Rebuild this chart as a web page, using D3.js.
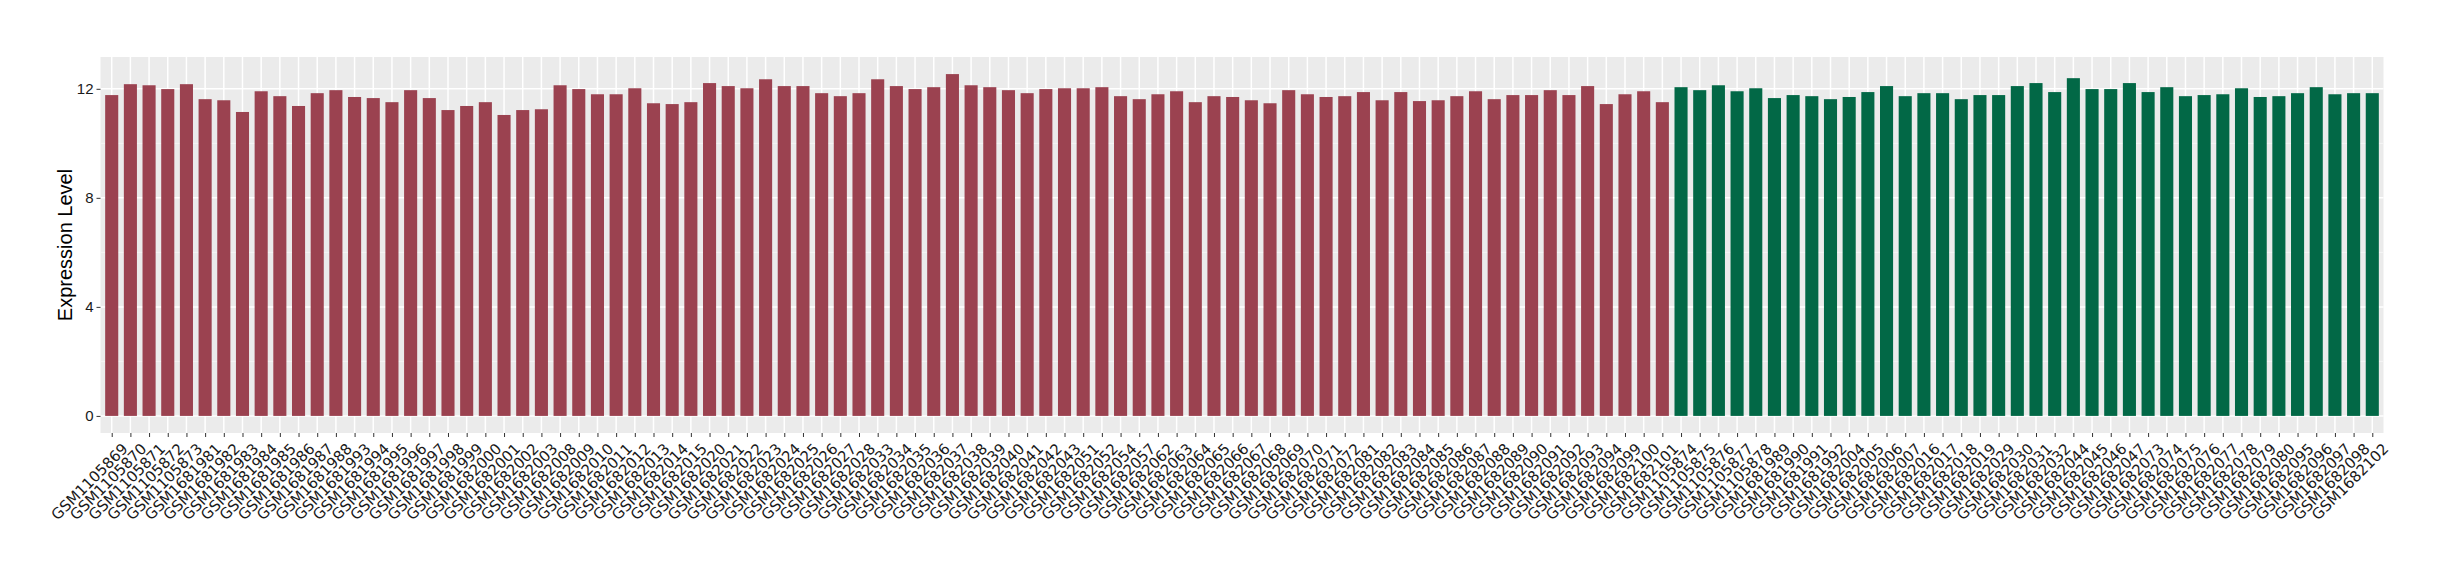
<!DOCTYPE html>
<html>
<head>
<meta charset="utf-8">
<script src="https://cdn.jsdelivr.net/npm/d3@7"></script>
<style>
  body { margin: 0; background: #fff; }
  text { font-family: "Liberation Sans", Arial, sans-serif; }
</style>
</head>
<body>
<svg width="2440" height="580"></svg>
<script>
// group 1 (red)
const group1Samples = [
  "GSM1105869", "GSM1105870", "GSM1105871", "GSM1105872", "GSM1105873",
  "GSM1681981", "GSM1681982", "GSM1681983", "GSM1681984", "GSM1681985",
  "GSM1681986", "GSM1681987", "GSM1681988", "GSM1681993", "GSM1681994",
  "GSM1681995", "GSM1681996", "GSM1681997", "GSM1681998", "GSM1681999",
  "GSM1682000", "GSM1682001", "GSM1682002", "GSM1682003", "GSM1682008",
  "GSM1682009", "GSM1682010", "GSM1682011", "GSM1682012", "GSM1682013",
  "GSM1682014", "GSM1682015", "GSM1682020", "GSM1682021", "GSM1682022",
  "GSM1682023", "GSM1682024", "GSM1682025", "GSM1682026", "GSM1682027",
  "GSM1682028", "GSM1682033", "GSM1682034", "GSM1682035", "GSM1682036",
  "GSM1682037", "GSM1682038", "GSM1682039", "GSM1682040", "GSM1682041",
  "GSM1682042", "GSM1682043", "GSM1682051", "GSM1682052", "GSM1682054",
  "GSM1682057", "GSM1682062", "GSM1682063", "GSM1682064", "GSM1682065",
  "GSM1682066", "GSM1682067", "GSM1682068", "GSM1682069", "GSM1682070",
  "GSM1682071", "GSM1682072", "GSM1682081", "GSM1682082", "GSM1682083",
  "GSM1682084", "GSM1682085", "GSM1682086", "GSM1682087", "GSM1682088",
  "GSM1682089", "GSM1682090", "GSM1682091", "GSM1682092", "GSM1682093",
  "GSM1682094", "GSM1682099", "GSM1682100", "GSM1682101"
];
const group1Values = [
  11.77, 12.17, 12.13, 11.99, 12.17, 11.62, 11.58, 11.15, 11.91, 11.73,
  11.37, 11.84, 11.95, 11.70, 11.66, 11.51, 11.95, 11.66, 11.22, 11.37,
  11.51, 11.04, 11.22, 11.25, 12.13, 11.99, 11.80, 11.80, 12.02, 11.47,
  11.44, 11.51, 12.21, 12.10, 12.02, 12.35, 12.10, 12.10, 11.84, 11.73,
  11.84, 12.35, 12.10, 11.99, 12.06, 12.54, 12.13, 12.06, 11.95, 11.84,
  11.99, 12.02, 12.02, 12.06, 11.73, 11.62, 11.80, 11.91, 11.51, 11.73,
  11.70, 11.58, 11.47, 11.95, 11.80, 11.70, 11.73, 11.88, 11.58, 11.88,
  11.55, 11.58, 11.73, 11.91, 11.62, 11.77, 11.77, 11.95, 11.77, 12.10,
  11.44, 11.80, 11.91, 11.51
];

// group 2 (green)
const group2Samples = [
  "GSM1105874", "GSM1105875", "GSM1105876", "GSM1105877", "GSM1105878",
  "GSM1681989", "GSM1681990", "GSM1681991", "GSM1681992", "GSM1682004",
  "GSM1682005", "GSM1682006", "GSM1682007", "GSM1682016", "GSM1682017",
  "GSM1682018", "GSM1682019", "GSM1682029", "GSM1682030", "GSM1682031",
  "GSM1682032", "GSM1682044", "GSM1682045", "GSM1682046", "GSM1682047",
  "GSM1682073", "GSM1682074", "GSM1682075", "GSM1682076", "GSM1682077",
  "GSM1682078", "GSM1682079", "GSM1682080", "GSM1682095", "GSM1682096",
  "GSM1682097", "GSM1682098", "GSM1682102"
];
const group2Values = [
  12.06, 11.95, 12.13, 11.91, 12.02, 11.66, 11.77, 11.73, 11.62, 11.70,
  11.88, 12.10, 11.73, 11.84, 11.84, 11.62, 11.77, 11.77, 12.10, 12.21,
  11.88, 12.39, 11.99, 11.99, 12.21, 11.88, 12.06, 11.73, 11.77, 11.80,
  12.02, 11.70, 11.73, 11.84, 12.06, 11.80, 11.84, 11.84
];

const yTicks = [0, 4, 8, 12];
const groupColors = ["#9b4250", "#026846"];

const data = [
  ...group1Samples.map((s, i) => ({ sample: s, value: group1Values[i], group: 0 })),
  ...group2Samples.map((s, i) => ({ sample: s, value: group2Values[i], group: 1 })),
];

const panel = { left: 100.5, right: 2383.5, top: 57, bottom: 433 };

const svg = d3.select("svg");

const xScale = d3
  .scalePoint()
  .domain(data.map((d) => d.sample))
  .range([panel.left, panel.right])
  .padding(0.6);
const step = xScale.step();

const yMax = d3.max(data, (d) => d.value);
const yScale = d3
  .scaleLinear()
  .domain([-yMax * 0.05, yMax * 1.05])
  .range([panel.bottom, panel.top]);

// panel background
svg
  .append("rect")
  .attr("x", panel.left)
  .attr("y", panel.top)
  .attr("width", panel.right - panel.left)
  .attr("height", panel.bottom - panel.top)
  .style("fill", "#ebebeb");

// minor grid
const minorTicks = [2, 6, 10];
svg
  .append("g")
  .selectAll("line")
  .data(minorTicks)
  .join("line")
  .attr("x1", panel.left)
  .attr("x2", panel.right)
  .attr("y1", (d) => yScale(d))
  .attr("y2", (d) => yScale(d))
  .style("stroke", "#f5f5f5")
  .style("stroke-width", "1px");

// major grid
svg
  .append("g")
  .selectAll("line")
  .data(yTicks)
  .join("line")
  .attr("x1", panel.left)
  .attr("x2", panel.right)
  .attr("y1", (d) => yScale(d))
  .attr("y2", (d) => yScale(d))
  .style("stroke", "#fff")
  .style("stroke-width", "1.5px");

svg
  .append("g")
  .selectAll("line")
  .data(data)
  .join("line")
  .attr("x1", (d) => xScale(d.sample))
  .attr("x2", (d) => xScale(d.sample))
  .attr("y1", panel.top)
  .attr("y2", panel.bottom)
  .style("stroke", "#fff")
  .style("stroke-width", "1.5px");

// bars
const barWidth = step * 0.7;
svg
  .append("g")
  .selectAll("rect")
  .data(data)
  .join("rect")
  .attr("x", (d) => xScale(d.sample) - barWidth / 2)
  .attr("y", (d) => yScale(d.value))
  .attr("width", barWidth)
  .attr("height", (d) => yScale(0) - yScale(d.value))
  .style("fill", (d) => groupColors[d.group]);

// y axis
const yAxis = d3.axisLeft(yScale).tickValues(yTicks).tickSize(4).tickPadding(3);
const yG = svg.append("g").attr("transform", `translate(${panel.left},0)`).call(yAxis);
yG.select(".domain").remove();
yG.selectAll(".tick line").style("stroke", "#333").style("stroke-width", "1px");
yG.selectAll(".tick text")
  .style("font-size", "15px")
  .style("fill", "#1a1a1a")
  .style("font-family", "Liberation Sans, Arial, sans-serif");

// x axis, labels rotated 45deg
const xAxis = d3.axisBottom(xScale).tickSize(4).tickPadding(0);
const xG = svg.append("g").attr("transform", `translate(0,${panel.bottom})`).call(xAxis);
xG.select(".domain").remove();
xG.selectAll(".tick line").style("stroke", "#333").style("stroke-width", "1px");
xG.selectAll(".tick text")
  .attr("y", 0)
  .attr("transform", "translate(9,9) rotate(-45)")
  .attr("dy", "0.72em")
  .style("text-anchor", "end")
  .style("font-size", "15px")
  .style("fill", "#1a1a1a")
  .style("font-family", "DejaVu Sans, sans-serif");

// y title
svg
  .append("text")
  .attr("transform", `translate(72,${(panel.top + panel.bottom) / 2}) rotate(-90)`)
  .style("text-anchor", "middle")
  .style("font-size", "20px")
  .style("fill", "#000")
  .text("Expression Level");
</script>
</body>
</html>
